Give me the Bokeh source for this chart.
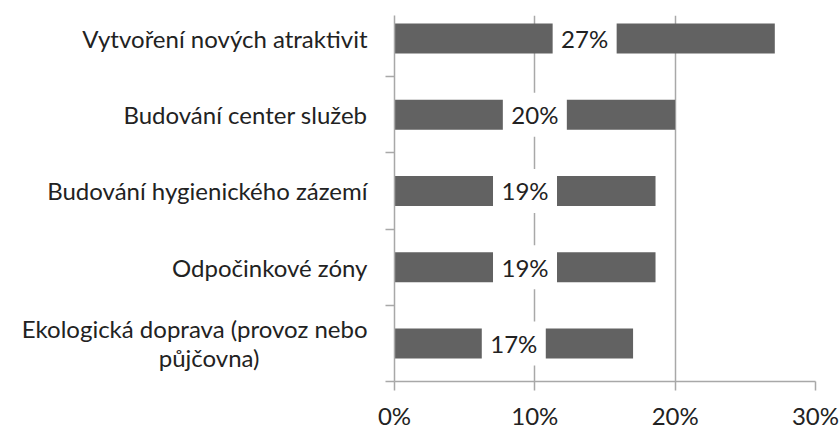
from bokeh.plotting import figure
from bokeh.models import ColumnDataSource, FixedTicker, NumeralTickFormatter, Range1d
from bokeh.core.properties import value
from bokeh.embed import file_html
from bokeh.resources import INLINE

categories = ["Vytvoření nových atraktivit", "Budování center služeb",
              "Budování hygienického zázemí", "Odpočinkové zóny",
              "Ekologická doprava (provoz nebo\npůjčovna)"]
values = [0.271, 0.200, 0.186, 0.186, 0.170]
value_labels = ["27%", "20%", "19%", "19%", "17%"]
x_ticks = [0.0, 0.1, 0.2, 0.3]

n = len(categories)
ys = [n - 0.5 - i for i in range(n)]

src = ColumnDataSource(dict(y=ys, v=values, mid=[v / 2 for v in values], lab=value_labels))

FONT = "Lato"
GRID = "#a8a8a8"
TXT = "#222222"

p = figure(width=840, height=432, output_backend="svg", toolbar_location=None,
           x_range=Range1d(0, 0.30), y_range=Range1d(0, 4.803),
           min_border_left=394, min_border_right=25, min_border_top=15, min_border_bottom=51)
p.outline_line_color = None
p.background_fill_color = "white"

p.hbar(y="y", left=0, right="v", height=0.394, source=src, color="#626262", line_color=None)
p.rect(x="mid", y="y", width=64, height=44, width_units="screen", height_units="screen",
       source=src, fill_color="white", line_color=None)
p.text(x="mid", y="y", text="lab", source=src, text_align="center", text_baseline="middle",
       text_font=value(FONT), text_font_size="24px", text_color=TXT)

# x axis
p.xaxis.ticker = FixedTicker(ticks=x_ticks)
p.xaxis.formatter = NumeralTickFormatter(format="0%")
p.xaxis.axis_line_color = GRID
p.xaxis.axis_line_width = 1.5
p.xaxis.major_tick_line_color = GRID
p.xaxis.major_tick_line_width = 1.5
p.xaxis.major_tick_out = 9
p.xaxis.major_tick_in = 0
p.xaxis.minor_tick_line_color = None
p.xaxis.major_label_standoff = 10
p.xaxis.major_label_text_font = FONT
p.xaxis.major_label_text_font_size = "24px"
p.xaxis.major_label_text_color = TXT

# y axis: wrapped category label is split into two label lines; the second
# line is padded with em spaces so that it sits centred under the first
label_ticks = []
overrides = {}
PAD = "\u2003" * 6
for y, c in zip(ys, categories):
    if "\n" in c:
        first, second = c.split("\n")
        label_ticks += [y + 0.19, y - 0.19]
        overrides[y + 0.19] = first
        overrides[y - 0.19] = second + PAD
    else:
        label_ticks.append(y)
        overrides[y] = c

p.yaxis.ticker = FixedTicker(ticks=label_ticks, minor_ticks=[0, 1, 2, 3, 4])
p.yaxis.major_label_overrides = overrides
p.yaxis.axis_line_color = GRID
p.yaxis.axis_line_width = 1.5
p.yaxis.major_tick_line_color = None
p.yaxis.major_tick_out = 0
p.yaxis.major_tick_in = 0
p.yaxis.minor_tick_line_color = GRID
p.yaxis.minor_tick_line_width = 1.5
p.yaxis.minor_tick_out = 9
p.yaxis.minor_tick_in = 0
p.yaxis.major_label_standoff = 18
p.yaxis.major_label_text_font = FONT
p.yaxis.major_label_text_font_size = "24px"
p.yaxis.major_label_text_color = TXT

p.xgrid.ticker = FixedTicker(ticks=x_ticks)
p.xgrid.grid_line_color = GRID
p.xgrid.grid_line_width = 1.5
p.ygrid.grid_line_color = None

open("out.html", "w").write(file_html(p, INLINE))
